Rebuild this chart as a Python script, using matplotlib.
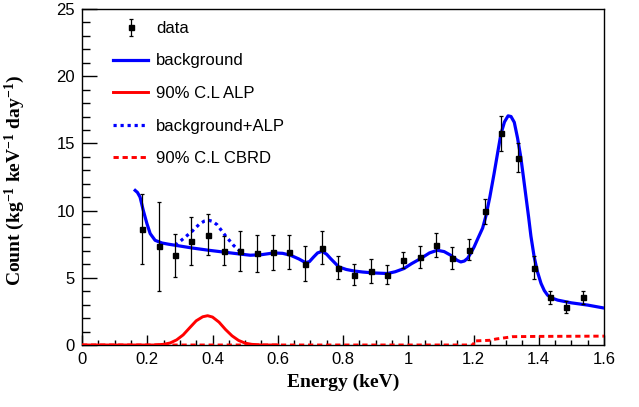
import matplotlib
matplotlib.use("Agg")
import matplotlib.pyplot as plt
from matplotlib.ticker import MultipleLocator

plt.rcParams['font.family'] = ['Liberation Sans', 'DejaVu Sans']
plt.rcParams['mathtext.fontset'] = 'custom'
plt.rcParams['mathtext.rm'] = 'Liberation Serif:bold'
plt.rcParams['mathtext.bf'] = 'Liberation Serif:bold'
plt.rcParams['mathtext.default'] = 'rm'

# measured spectrum (0.05 keV bins)
energy = [0.185 + 0.05 * k for k in range(28)]
count = [8.66, 7.34, 6.68, 7.74, 8.21, 7.02, 7.00, 6.82, 6.90, 6.92,
         6.06, 7.25, 5.76, 5.24, 5.49, 5.24, 6.31, 6.55, 7.44, 6.48,
         7.07, 9.94, 15.75, 13.95, 5.76, 3.54, 2.80, 3.54]
count_err = [2.6, 3.3, 1.6, 1.8, 1.5, 1.1, 1.5, 1.4, 1.3, 1.25,
             1.27, 1.24, 0.85, 0.75, 0.9, 0.7, 0.6, 0.8, 0.9, 0.8,
             0.78, 0.93, 1.3, 1.05, 0.83, 0.5, 0.45, 0.47]

# background model
bkg_x = [0.163, 0.170, 0.178, 0.188, 0.199, 0.209, 0.224, 0.245, 0.265, 0.286,
         0.337, 0.388, 0.439, 0.490, 0.516, 0.550, 0.588, 0.615, 0.639, 0.665,
         0.685, 0.697, 0.710, 0.722, 0.736, 0.750, 0.762, 0.787, 0.810, 0.833,
         0.860, 0.895, 0.936, 0.960, 0.987, 1.010, 1.038, 1.065, 1.089, 1.110,
         1.130, 1.150, 1.161, 1.172, 1.182, 1.192, 1.202, 1.212, 1.228, 1.238,
         1.250, 1.263, 1.274, 1.284, 1.295, 1.306, 1.315, 1.325, 1.335, 1.345,
         1.353, 1.361, 1.369, 1.376, 1.386, 1.396, 1.407, 1.417, 1.427, 1.442,
         1.458, 1.499, 1.550, 1.600]
bkg_y = [11.5, 11.35, 11.0, 10.0, 9.03, 8.29, 7.79, 7.59, 7.50, 7.42,
         7.22, 7.05, 6.90, 6.75, 6.68, 6.72, 6.85, 6.82, 6.68, 6.40,
         6.13, 6.20, 6.55, 6.85, 6.97, 6.75, 6.43, 5.81, 5.62, 5.51,
         5.43, 5.36, 5.32, 5.45, 5.69, 6.05, 6.43, 6.85, 7.05, 6.95,
         6.68, 6.30, 6.18, 6.25, 6.45, 6.85, 7.30, 7.85, 8.70, 9.60,
         11.0, 12.74, 14.3, 15.7, 16.6, 17.05, 17.0, 16.57, 15.4, 13.97,
         12.5, 11.0, 9.5, 8.1, 6.55, 5.45, 4.58, 4.05, 3.71, 3.48,
         3.34, 3.14, 2.97, 2.75]

# 90% C.L. ALP peak
alp_x = [0.0, 0.22, 0.25, 0.27, 0.29, 0.31, 0.33, 0.35, 0.37, 0.385,
         0.40, 0.42, 0.44, 0.46, 0.48, 0.50, 0.52, 0.55, 0.60]
alp_y = [0.0, 0.0, 0.05, 0.15, 0.38, 0.75, 1.28, 1.80, 2.10, 2.18,
         2.08, 1.70, 1.15, 0.68, 0.34, 0.14, 0.05, 0.0, 0.0]

# background + ALP
sum_x = [0.286, 0.31, 0.337, 0.36, 0.375, 0.388, 0.40, 0.414, 0.439, 0.465, 0.49]
sum_y = [7.42, 7.90, 8.45, 9.00, 9.22, 9.28, 9.20, 8.95, 8.15, 7.40, 6.85]

# 90% C.L. CBRD
cbrd_x = [0.0, 1.20, 1.201, 1.25, 1.27, 1.30, 1.32, 1.40, 1.60]
cbrd_y = [0.0, 0.0, 0.30, 0.35, 0.45, 0.55, 0.62, 0.64, 0.66]

fig = plt.figure(figsize=(6.39, 4.07), dpi=100)
ax = fig.add_axes([82 / 639, 1 - 345 / 407, (604 - 82) / 639, (345 - 9) / 407])

blue = (0, 0, 1)
red = (1, 0, 0)

h_data = ax.errorbar(energy, count, yerr=count_err, fmt='s', color='black',
                     ms=3.6, elinewidth=0.9, capsize=1.5, capthick=0.9, zorder=5)
h_bkg, = ax.plot(bkg_x, bkg_y, color=blue, lw=2.3, solid_joinstyle='round', zorder=4)
h_alp, = ax.plot(alp_x, alp_y, color=red, lw=2.1, zorder=3)
h_sum, = ax.plot(sum_x, sum_y, color=blue, lw=2.3, ls=(0, (1, 1.2)), zorder=3)
h_cbrd, = ax.plot(cbrd_x, cbrd_y, color=red, lw=2.1, ls=(0, (1.8, 1.3)), zorder=3)

ax.set_xlim(0, 1.6)
ax.set_ylim(0, 25)
ax.xaxis.set_major_locator(MultipleLocator(0.2))
ax.xaxis.set_minor_locator(MultipleLocator(0.05))
ax.yaxis.set_major_locator(MultipleLocator(5))
ax.yaxis.set_minor_locator(MultipleLocator(1))
ax.set_xticks([0, 0.2, 0.4, 0.6, 0.8, 1.0, 1.2, 1.4, 1.6])
ax.set_xticklabels(['0', '0.2', '0.4', '0.6', '0.8', '1', '1.2', '1.4', '1.6'])

ax.tick_params(axis='both', which='both', direction='in', labelsize=12,
               width=1, top=False, right=False)
ax.tick_params(axis='x', which='major', length=7.2, pad=5)
ax.tick_params(axis='x', which='minor', length=3.6)
ax.tick_params(axis='y', which='major', length=10.8, pad=5)
ax.tick_params(axis='y', which='minor', length=5.4)
for s in ax.spines.values():
    s.set_linewidth(1)

ax.set_xlabel('Energy (keV)', family='Liberation Serif', weight='bold', fontsize=14)
ax.set_ylabel(r'Count (kg$^{-1}$ keV$^{-1}$ day$^{-1}$)', family='Liberation Serif',
              weight='bold', fontsize=14)
ax.xaxis.set_label_coords(0.5, -0.085)
ax.yaxis.set_label_coords(-0.105, 0.49)

ax.legend([h_data, h_bkg, h_alp, h_sum, h_cbrd],
          ['data', 'background', '90% C.L ALP', 'background+ALP', '90% C.L CBRD'],
          loc='upper left', bbox_to_anchor=(113 / 639, 1 - 21 / 407),
          bbox_transform=fig.transFigure, frameon=False, fontsize=12,
          handlelength=2.1, handletextpad=0.5, labelspacing=1.05,
          borderpad=0, borderaxespad=0)

fig.savefig('out.png', dpi=100)
